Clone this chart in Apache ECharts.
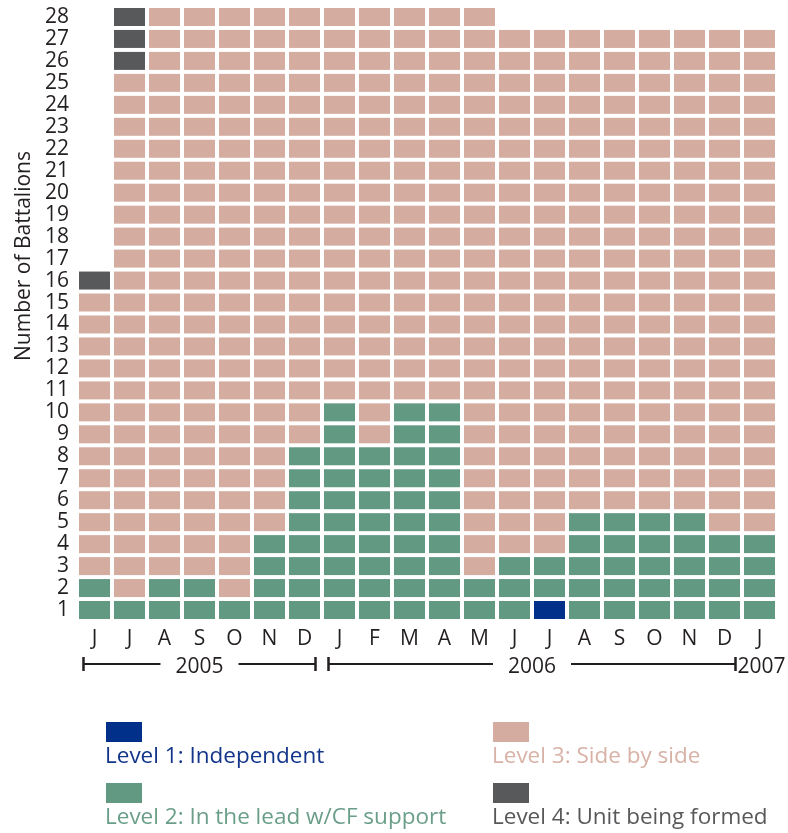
<!DOCTYPE html>
<html>
<head>
<meta charset="utf-8">
<title>Battalions by readiness level</title>
<script src="https://cdn.jsdelivr.net/npm/echarts@6/dist/echarts.min.js"></script>
<style>
  html, body { margin: 0; padding: 0; background: #fff; }
  #main { width: 788px; height: 833px; }
</style>
</head>
<body>
<div id="main"></div>
<script>
// months from June 2005 to January 2007
const months = ["J", "J", "A", "S", "O", "N", "D", "J", "F", "M", "A", "M", "J", "J", "A", "S", "O", "N", "D", "J"];
const rowLabels = ["1", "2", "3", "4", "5", "6", "7", "8", "9", "10", "11", "12", "13", "14",
  "15", "16", "17", "18", "19", "20", "21", "22", "23", "24", "25", "26", "27", "28"];

// battalions per month at each level (stacked bottom to top)
const level1 = [0, 0, 0, 0, 0, 0, 0, 0, 0, 0, 0, 0, 0, 1, 0, 0, 0, 0, 0, 0];
const level2 = [2, 1, 2, 2, 1, 4, 8, 10, 8, 10, 10, 2, 3, 2, 5, 5, 5, 5, 4, 4];
const level3 = [13, 24, 26, 26, 27, 24, 20, 18, 20, 18, 18, 26, 24, 24, 22, 22, 22, 22, 23, 23];
const level4 = [1, 3, 0, 0, 0, 0, 0, 0, 0, 0, 0, 0, 0, 0, 0, 0, 0, 0, 0, 0];

// year brackets under the month letters (month index ranges)
const yearLabels = ["2005", "2006", "2007"];
const yearStart = [0, 7, 19];
const yearEnd = [6, 18, 19];

const levelNames = ["Level 1: Independent", "Level 2: In the lead w/CF support", "Level 3: Side by side", "Level 4: Unit being formed"];
const levelColors = ["#00308a", "#629983", "#d4aca0", "#58595b"];
const levelTextColors = ["#13368a", "#6a9e89", "#d8b2a6", "#58595b"];

const FONT = "'Open Sans', 'Noto Sans', sans-serif";

const chart = echarts.init(document.getElementById("main"));

// turn the counts into one cell per battalion
function buildCells() {
  const levels = [level1, level2, level3, level4];
  const cells = [[], [], [], []];
  months.forEach((m, i) => {
    let row = 0;
    levels.forEach((lv, k) => {
      for (let n = 0; n < lv[i]; n++) {
        cells[k].push([i, row]);
        row++;
      }
    });
  });
  return cells;
}
const cells = buildCells();

const option = {
  animation: false,
  grid: { left: 77, right: 11, top: 6, bottom: 212 },
  xAxis: {
    type: "category",
    data: months,
    axisLine: { show: false },
    axisTick: { show: false },
    splitLine: { show: false },
    axisLabel: { fontSize: 21, color: "#231f20", margin: 8, fontFamily: FONT, interval: 0 },
  },
  yAxis: {
    type: "category",
    data: rowLabels,
    axisLine: { show: false },
    axisTick: { show: false },
    splitLine: { show: false },
    axisLabel: { fontSize: 21, color: "#231f20", margin: 8, fontFamily: FONT, interval: 0 },
  },
  series: levelNames.map((name, k) => ({
    name: name,
    type: "scatter",
    symbol: "rect",
    symbolSize: [31, 18],
    silent: true,
    itemStyle: { color: levelColors[k], opacity: 1 },
    data: cells[k],
  })),
};
chart.setOption(option);

// annotations: axis title, year brackets and the legend
const graphics = [];
graphics.push({
  type: "text",
  x: 24,
  y: 256,
  rotation: Math.PI / 2,
  style: {
    text: "Number of Battalions",
    font: "21px " + FONT,
    fill: "#231f20",
    align: "center",
    verticalAlign: "middle",
  },
});

const lineY = 664;
yearLabels.forEach((label, k) => {
  const x0 = chart.convertToPixel({ xAxisIndex: 0 }, yearStart[k]);
  const x1 = chart.convertToPixel({ xAxisIndex: 0 }, yearEnd[k]);
  if (yearStart[k] === yearEnd[k]) {
    graphics.push({
      type: "text",
      x: x0 - 22,
      y: lineY + 3,
      style: { text: label, font: "21px " + FONT, fill: "#231f20", align: "left", verticalAlign: "middle" },
    });
    return;
  }
  const a = x0 - 11;
  const b = x1 + 11;
  graphics.push(
    { type: "line", shape: { x1: a, y1: lineY, x2: b, y2: lineY }, style: { stroke: "#231f20", lineWidth: 2 } },
    { type: "line", shape: { x1: a, y1: lineY - 7, x2: a, y2: lineY + 7 }, style: { stroke: "#231f20", lineWidth: 2.5 } },
    { type: "line", shape: { x1: b, y1: lineY - 7, x2: b, y2: lineY + 7 }, style: { stroke: "#231f20", lineWidth: 2.5 } },
    {
      type: "text",
      x: (a + b) / 2,
      y: lineY + 3,
      z: 10,
      style: {
        text: label,
        font: "21px " + FONT,
        fill: "#231f20",
        align: "center",
        verticalAlign: "middle",
        backgroundColor: "#fff",
        padding: [0, 15],
      },
    }
  );
});

// legend: swatch above its label, two columns
const legendX = [106, 106, 493, 493];
const legendY = [722, 783, 722, 783];
levelNames.forEach((name, k) => {
  graphics.push(
    { type: "rect", shape: { x: legendX[k], y: legendY[k], width: 36, height: 20 }, style: { fill: levelColors[k] } },
    {
      type: "text",
      x: legendX[k] - 1,
      y: legendY[k] + 35,
      style: { text: name, font: "22.5px " + FONT, fill: levelTextColors[k], align: "left", verticalAlign: "middle" },
    }
  );
});

chart.setOption({ graphic: graphics });
</script>
</body>
</html>
